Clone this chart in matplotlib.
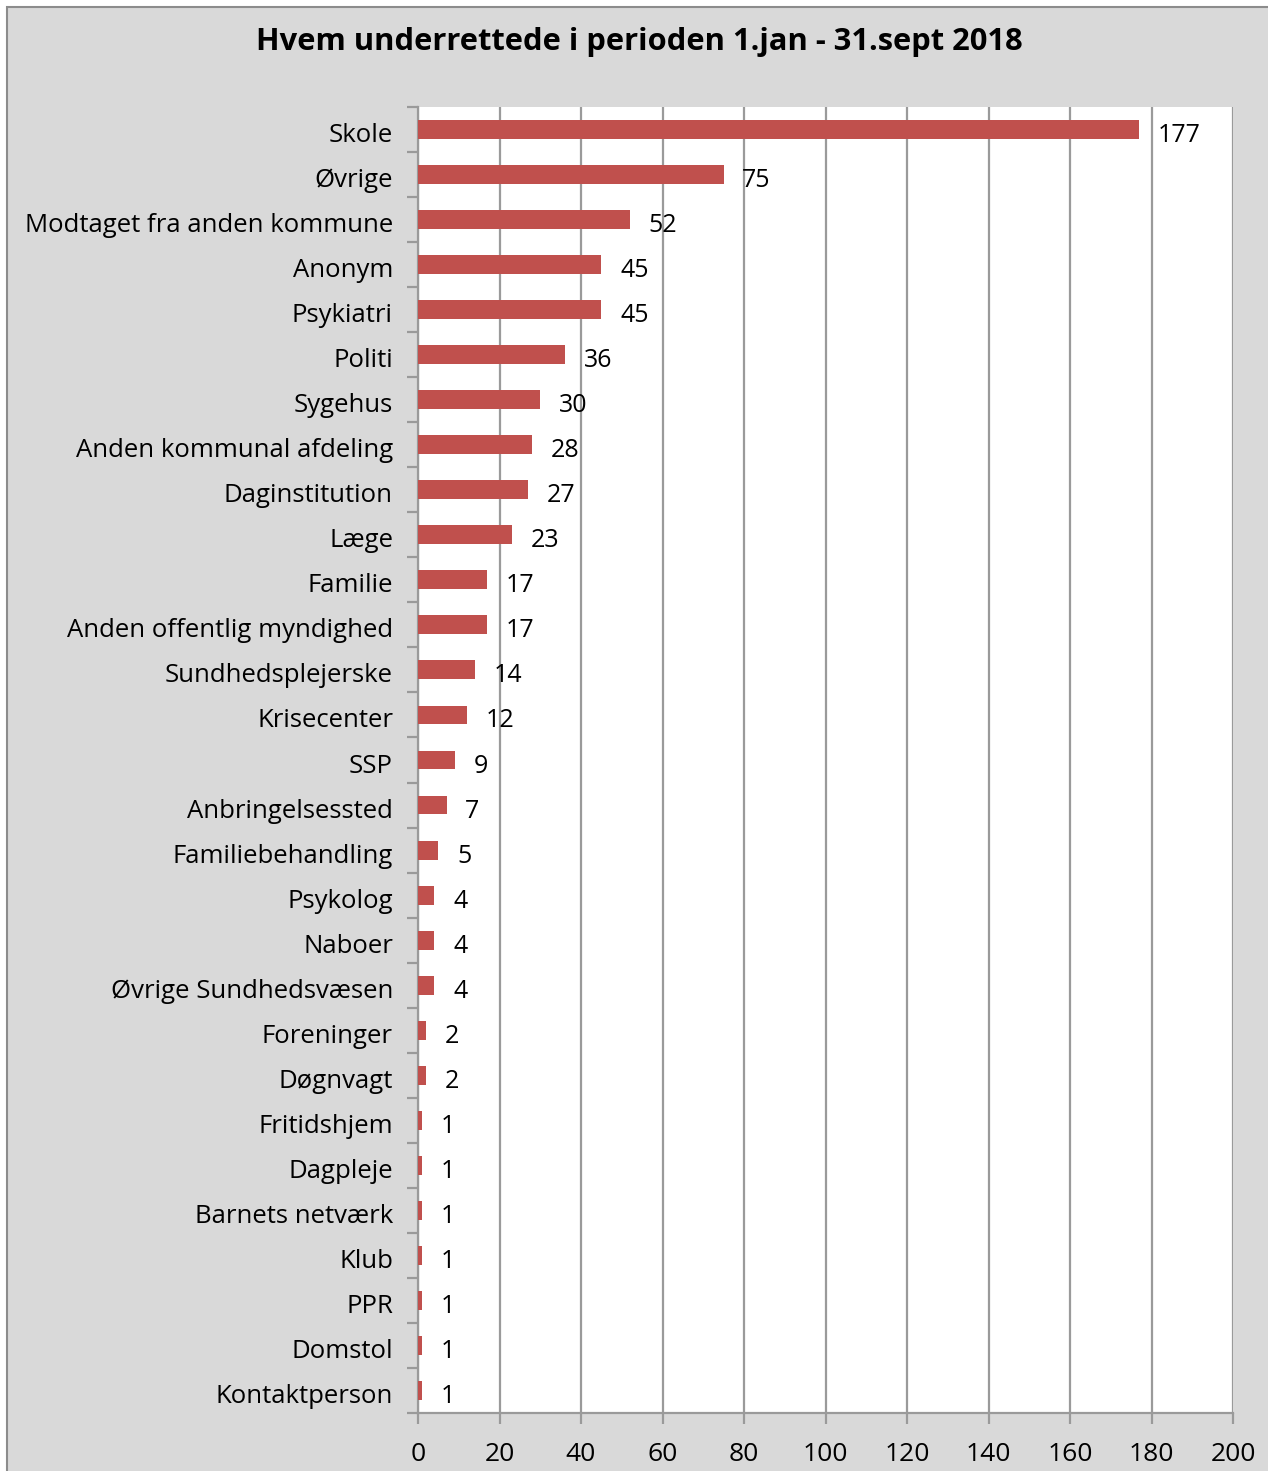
import matplotlib
matplotlib.use("Agg")
from matplotlib import pyplot as plt
from matplotlib.patches import Rectangle
import matplotlib.transforms as mtransforms
import numpy as np

plt.rcParams['font.family'] = ['Open Sans', 'DejaVu Sans']

#----------Data----------#
categories = ["Skole", "Øvrige", "Modtaget fra anden kommune", "Anonym", "Psykiatri",
              "Politi", "Sygehus", "Anden kommunal afdeling", "Daginstitution", "Læge",
              "Familie", "Anden offentlig myndighed", "Sundhedsplejerske", "Krisecenter",
              "SSP", "Anbringelsessted", "Familiebehandling", "Psykolog", "Naboer",
              "Øvrige Sundhedsvæsen", "Foreninger", "Døgnvagt", "Fritidshjem", "Dagpleje",
              "Barnets netværk", "Klub", "PPR", "Domstol", "Kontaktperson"]
values = [177, 75, 52, 45, 45, 36, 30, 28, 27, 23, 17, 17, 14, 12, 9, 7, 5, 4, 4, 4,
          2, 2, 1, 1, 1, 1, 1, 1, 1]
x_ticks = [0, 20, 40, 60, 80, 100, 120, 140, 160, 180, 200]

#----------Figure----------#
fig = plt.figure(figsize=(12.68, 14.71), dpi=100)
fig.patch.set_facecolor('white')
# gray chart frame (behind the axes)
fig.patches.append(Rectangle((7 / 1268, -0.01), 1.02, 1 - 7 / 1471 + 0.01,
                             transform=fig.transFigure, facecolor='#d9d9d9',
                             edgecolor='#8c8c8c', linewidth=1.5, zorder=-10))

ax = fig.add_axes([418 / 1268, 1 - 1413 / 1471, (1233 - 418) / 1268, (1413 - 107) / 1471])
ax.set_zorder(1)
ax.set_facecolor('white')

y = np.arange(len(categories))
ax.barh(y, values, height=0.42, color='#c0504d', zorder=3)

# value labels, nudged down a little like the original
shift_down = mtransforms.ScaledTranslation(0, -6 / 100, fig.dpi_scale_trans)
for yi, v in zip(y, values):
    ax.text(v + 4.6, yi, str(v), va='center', ha='left', fontsize=18, color='black',
            zorder=4, transform=ax.transData + shift_down)

ax.set_ylim(len(categories) - 0.5, -0.5)
ax.set_xlim(0, 200)

# gridlines
ax.set_xticks(x_ticks)
ax.xaxis.grid(True, color='#9a9a9a', linewidth=1.6, zorder=1)
ax.set_axisbelow(True)

# y labels without ticks at centers; ticks between categories
ax.set_yticks(y)
ax.set_yticklabels(categories, fontsize=18.5)
ax.tick_params(axis='y', length=0, pad=18)
ax.set_yticks(np.arange(len(categories) + 1) - 0.5, minor=True)
ax.tick_params(axis='y', which='minor', length=8, width=1.6, color='#9a9a9a')
lab_shift = mtransforms.ScaledTranslation(0, -3 / 100, fig.dpi_scale_trans)
for lab in ax.get_yticklabels():
    lab.set_transform(lab.get_transform() + lab_shift)

ax.tick_params(axis='x', labelsize=19, length=8, width=1.6, color='#9a9a9a', pad=13)

for side in ['top', 'right']:
    ax.spines[side].set_visible(False)
ax.spines['left'].set_color('#9a9a9a')
ax.spines['left'].set_linewidth(1.6)
ax.spines['bottom'].set_color('#9a9a9a')
ax.spines['bottom'].set_linewidth(1.6)

fig.text(0.504, 1 - 42 / 1471, "Hvem underrettede i perioden 1.jan - 31.sept 2018",
         ha='center', va='center', fontsize=22.2, fontweight='bold')

fig.savefig("out.png", dpi=100, facecolor=fig.get_facecolor())
